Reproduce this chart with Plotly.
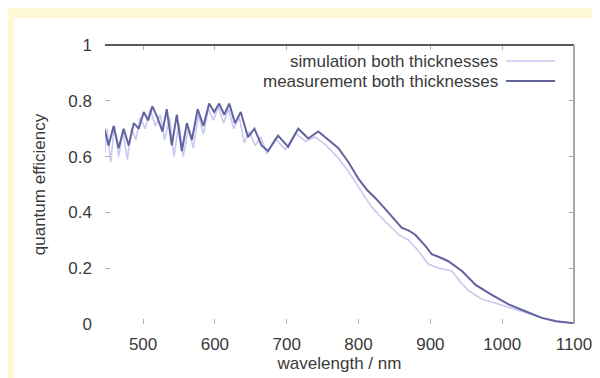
import plotly.graph_objects as go

meas_wl = [446, 452, 459, 466, 473, 480, 487, 494, 501, 507, 513, 520, 527, 533, 540, 547, 554, 561, 568,
           576, 584, 592, 599, 606, 613, 620, 628, 636, 646, 655, 665, 674, 688, 702, 716, 730, 744, 758,
           772, 786, 800, 812, 824, 838, 851, 860, 870, 879, 893, 902, 912, 925, 944, 963, 985, 1009, 1033,
           1055, 1075, 1093, 1100]
meas_qe = [0.70, 0.64, 0.71, 0.63, 0.70, 0.64, 0.72, 0.70, 0.76, 0.73, 0.78, 0.74, 0.69, 0.77, 0.64, 0.75,
           0.62, 0.72, 0.66, 0.77, 0.71, 0.79, 0.76, 0.79, 0.75, 0.79, 0.72, 0.76, 0.67, 0.70, 0.64, 0.62,
           0.675, 0.635, 0.70, 0.665, 0.69, 0.66, 0.63, 0.58, 0.52, 0.48, 0.45, 0.41, 0.37, 0.345, 0.335,
           0.32, 0.28, 0.25, 0.24, 0.225, 0.19, 0.14, 0.105, 0.07, 0.045, 0.022, 0.01, 0.004, 0.003]

sim_wl = [446, 450, 455, 460, 466, 472, 478, 484, 490, 496, 503, 510, 517, 524, 530, 537, 543, 550, 556,
          563, 570, 577, 584, 591, 598, 605, 612, 619, 626, 634, 641, 648, 656, 664, 672, 684, 698, 712,
          726, 740, 755, 770, 785, 800, 818, 836, 856, 870, 884, 897, 912, 930, 942, 953, 971, 990, 1010,
          1035, 1060, 1080, 1100]
sim_qe = [0.60, 0.70, 0.58, 0.71, 0.60, 0.69, 0.59, 0.70, 0.66, 0.74, 0.70, 0.77, 0.71, 0.75, 0.66, 0.74,
          0.60, 0.72, 0.60, 0.70, 0.63, 0.75, 0.68, 0.77, 0.73, 0.78, 0.72, 0.77, 0.70, 0.74, 0.65, 0.69,
          0.64, 0.67, 0.61, 0.665, 0.625, 0.685, 0.655, 0.67, 0.64, 0.60, 0.55, 0.49, 0.42, 0.37, 0.32,
          0.30, 0.26, 0.215, 0.20, 0.19, 0.15, 0.12, 0.09, 0.075, 0.06, 0.04, 0.02, 0.008, 0.002]

x_ticks = [500, 600, 700, 800, 900, 1000, 1100]
y_ticks = [0, 0.2, 0.4, 0.6, 0.8, 1]
y_tick_text = ["0", "0.2", "0.4", "0.6", "0.8", "1"]
legend_names = ["simulation both thicknesses", "measurement both thicknesses"]

SIM_COLOR = "#c8c8f0"
MEAS_COLOR = "#6262a0"
FONT = dict(family="Liberation Sans, Arial, sans-serif", size=17, color="#3a3a3a")

fig = go.Figure()
fig.add_trace(go.Scatter(x=sim_wl, y=sim_qe, mode="lines", name=legend_names[0],
                         line=dict(color=SIM_COLOR, width=1.6), showlegend=False))
fig.add_trace(go.Scatter(x=meas_wl, y=meas_qe, mode="lines", name=legend_names[1],
                         line=dict(color=MEAS_COLOR, width=2), showlegend=False))

W, H = 600, 378
L, R, T, B = 97, 34, 37, 62
pw, ph = W - L - R, H - T - B


def px(xp):
    return (xp - L) / pw


def py(yp):
    return 1 - (yp - T) / ph


shapes = [
    # white page area
    dict(type="rect", xref="paper", yref="paper", x0=px(6), x1=px(602), y0=py(380), y1=py(10),
         fillcolor="white", line=dict(width=0), layer="below"),
    # top border
    dict(type="line", xref="paper", yref="paper", x0=0, x1=1, y0=1, y1=1,
         line=dict(color="#5a5a5a", width=2)),
    # right border
    dict(type="line", xref="paper", yref="paper", x0=1, x1=1, y0=0, y1=1,
         line=dict(color="#a8a8a8", width=2)),
]

annotations = []
leg_rows = [(53, SIM_COLOR, 1.6), (73, MEAS_COLOR, 2)]
for name, (yrow, col, lw) in zip(legend_names, leg_rows):
    annotations.append(dict(text=name, xref="paper", yref="paper", x=px(492), y=py(yrow),
                            xanchor="right", yanchor="middle", showarrow=False, font=FONT))
    shapes.append(dict(type="line", xref="paper", yref="paper", x0=px(498), x1=px(547),
                       y0=py(yrow), y1=py(yrow), line=dict(color=col, width=lw)))

fig.update_layout(
    width=W, height=H,
    margin=dict(l=L, r=R, t=T, b=B, autoexpand=False),
    paper_bgcolor="#fef7d3",
    plot_bgcolor="white",
    font=FONT,
    shapes=shapes,
    annotations=annotations,
    xaxis=dict(range=[447, 1100], tickvals=x_ticks, showgrid=False, zeroline=False,
               showline=False, ticks="inside", ticklen=5, tickcolor="#b0b0b0", mirror="ticks",
               ticklabelstandoff=8, automargin=False,
               title=dict(text="wavelength / nm", standoff=4, font=FONT)),
    yaxis=dict(range=[0, 1], tickvals=y_ticks, ticktext=y_tick_text, showgrid=False, zeroline=False,
               showline=False, ticks="inside", ticklen=5, tickcolor="#b0b0b0", mirror="ticks",
               ticklabelstandoff=12, automargin=False,
               title=dict(text="quantum efficiency", standoff=18, font=FONT)),
)

fig.write_html("out.html")
